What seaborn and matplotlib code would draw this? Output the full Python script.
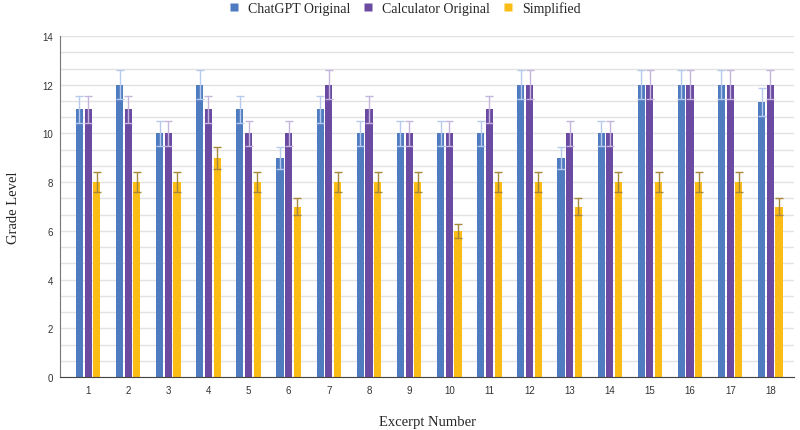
import numpy as np
import pandas as pd
import matplotlib
matplotlib.use("Agg")
import matplotlib.pyplot as plt
import seaborn as sns
from matplotlib.ticker import MultipleLocator

############################## DATA ##############################
excerpts = [str(i) for i in range(1, 19)]
chatgpt_original = [11, 12, 10, 12, 11, 9, 11, 10, 10, 10, 10, 12, 9, 10, 12, 12, 12, 11.3]
calculator_original = [11, 11, 10, 11, 10, 10, 12, 11, 10, 10, 11, 12, 10, 10, 12, 12, 12, 12]
simplified = [8, 8, 8, 9, 8, 7, 8, 8, 8, 6, 8, 8, 7, 8, 8, 8, 8, 7]
series_names = ["ChatGPT Original", "Calculator Original", "Simplified"]
err_pct = 5  # percentage error bars

bar_colors = ["#4f7bc1", "#6a4ba1", "#fbbc16"]
err_colors = ["#b7caee", "#c3b5de", "#a8883a"]

df = pd.DataFrame({
    "Excerpt": excerpts * 3,
    "Grade": chatgpt_original + calculator_original + simplified,
    "Series": np.repeat(series_names, len(excerpts)),
})

############################## PLOT ##############################
sns.set_style("white")
fig = plt.figure(figsize=(8, 4.31), dpi=100)
ax = fig.add_axes([0.075, 0.123, 0.918, 0.791])

sns.barplot(data=df, x="Excerpt", y="Grade", hue="Series", palette=bar_colors,
            width=0.65, gap=0.18, errorbar=None, saturation=1, ax=ax,
            edgecolor="none", zorder=2)

# percentage error bars on each bar
for cont, ecol in zip(ax.containers, err_colors):
    xs = [p.get_x() + p.get_width() / 2 for p in cont.patches]
    hs = np.array([p.get_height() for p in cont.patches])
    ax.errorbar(xs, hs, yerr=hs * err_pct / 100, fmt="none", ecolor=ecol,
                elinewidth=1, capsize=2.7, capthick=1, zorder=3)

ax.set_ylim(0, 14)
ax.set_xlim(-0.7, 17.6)
ax.yaxis.set_major_locator(MultipleLocator(2))
ax.yaxis.set_minor_locator(MultipleLocator(2 / 3))
ax.grid(True, which="both", axis="y", color="#e2e2e2", linewidth=1, zorder=0)
ax.set_axisbelow(True)

for s in ["top", "right"]:
    ax.spines[s].set_visible(False)
ax.spines["left"].set_color("#777777")
ax.spines["bottom"].set_color("#444444")
ax.tick_params(axis="y", which="major", direction="inout", length=6, color="#777777",
               labelsize=7, labelcolor="#333333", pad=2)
ax.tick_params(axis="y", which="minor", direction="inout", length=4, color="#777777")
ax.tick_params(axis="x", length=0, labelsize=7, labelcolor="#333333", pad=6)
for lab in ax.get_xticklabels() + ax.get_yticklabels():
    lab.set_family("Liberation Sans")

ax.set_xlabel("Excerpt Number", family="Liberation Serif", fontsize=10.5, labelpad=14)
ax.set_ylabel("Grade Level", family="Liberation Serif", fontsize=10.5, labelpad=16)

ax.legend_.remove()
handles = [plt.Line2D([], [], marker="s", linestyle="none", markersize=6,
                      markerfacecolor=c, markeredgecolor="none") for c in bar_colors]
fig.legend(handles, series_names, loc="upper center", bbox_to_anchor=(0.5, 1.025),
           ncol=3, frameon=False, handletextpad=0.0, columnspacing=0.3,
           prop={"family": "Liberation Serif", "size": 10})

fig.savefig("out.png", dpi=100)
